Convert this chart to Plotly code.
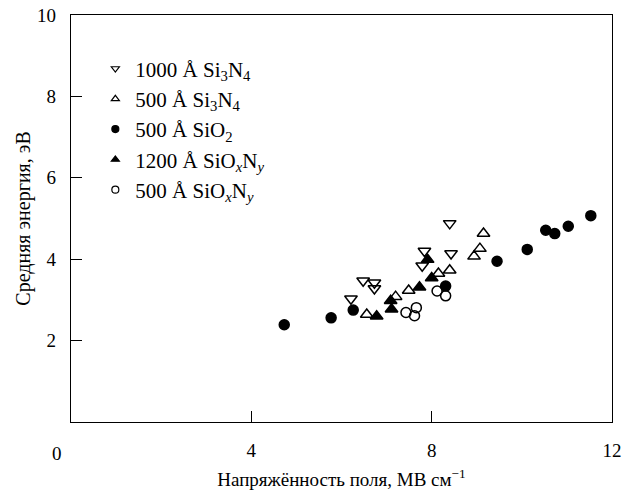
import plotly.graph_objects as go

# 1000 Å Si3N4 (open down-triangles)
si3n4_1000_x = [6.21, 6.48, 6.73, 6.73, 7.84, 7.79, 8.40, 8.43]
si3n4_1000_y = [3.03, 3.47, 3.42, 3.28, 4.20, 3.84, 4.88, 4.14]
# 500 Å Si3N4 (open up-triangles)
si3n4_500_x = [6.56, 7.20, 7.49, 8.15, 8.40, 8.94, 9.07, 9.15]
si3n4_500_y = [2.64, 3.08, 3.23, 3.65, 3.73, 4.07, 4.26, 4.63]
# 500 Å SiO2 (filled circles)
sio2_500_x = [4.73, 5.77, 6.26, 8.31, 9.45, 10.12, 10.53, 10.73, 11.03, 11.53]
sio2_500_y = [2.39, 2.56, 2.75, 3.34, 3.95, 4.24, 4.71, 4.63, 4.81, 5.07]
# 1200 Å SiOxNy (filled up-triangles)
sioxny_1200_x = [6.78, 7.09, 7.11, 7.73, 7.91, 8.00]
sioxny_1200_y = [2.60, 2.98, 2.77, 3.31, 3.99, 3.54]
# 500 Å SiOxNy (open circles)
sioxny_500_x = [7.43, 7.66, 7.62, 8.12, 8.31]
sioxny_500_y = [2.69, 2.81, 2.61, 3.22, 3.10]

x_ticks = [4, 8, 12]
y_ticks = [2, 4, 6, 8, 10]

FONT = "Liberation Serif, Times New Roman, serif"

series = [
    ("1000 Å Si<sub>3</sub>N<sub>4</sub>", si3n4_1000_x, si3n4_1000_y, "triangle-down-open", 11),
    ("500 Å Si<sub>3</sub>N<sub>4</sub>", si3n4_500_x, si3n4_500_y, "triangle-up-open", 11),
    ("500 Å SiO<sub>2</sub>", sio2_500_x, sio2_500_y, "circle", 10),
    ("1200 Å SiO<sub><i>x</i></sub>N<sub><i>y</i></sub>", sioxny_1200_x, sioxny_1200_y, "triangle-up", 11),
    ("500 Å SiO<sub><i>x</i></sub>N<sub><i>y</i></sub>", sioxny_500_x, sioxny_500_y, "circle-open", 10),
]

fig = go.Figure()
for name, xs, ys, sym, sz in series:
    fig.add_trace(go.Scatter(
        x=xs, y=ys, mode="markers", name=name, showlegend=False,
        marker=dict(symbol=sym, size=sz, color="black", line=dict(color="black", width=1.5)),
    ))
for name, xs, ys, sym, sz in series:
    fig.add_trace(go.Scatter(
        x=[None], y=[None], mode="markers", name=name, showlegend=True,
        marker=dict(symbol=sym, size=7, color="black", line=dict(color="black", width=1.2)),
    ))

axis_common = dict(
    showline=True, linecolor="black", linewidth=1.3, mirror=True,
    ticks="inside", ticklen=11, tickwidth=1.3, tickcolor="black",
    showgrid=False, zeroline=False, automargin=False,
    tickfont=dict(family=FONT, size=19, color="black"),
)

fig.update_layout(
    width=639, height=490,
    margin=dict(l=71, r=27, t=15, b=68),
    paper_bgcolor="white", plot_bgcolor="white",
    font=dict(family=FONT, color="black"),
    xaxis=dict(range=[0, 12], tickvals=x_ticks, ticktext=[str(v) for v in x_ticks],
               ticklabelstandoff=11,
               title=dict(text="Напряжённость поля, МВ см<sup>−1</sup>",
                          font=dict(family=FONT, size=19), standoff=12),
               **axis_common),
    yaxis=dict(range=[0, 10], tickvals=y_ticks, ticktext=[str(v) for v in y_ticks],
               ticklabelstandoff=10,
               title=dict(text="Средняя энергия, эВ",
                          font=dict(family=FONT, size=20), standoff=1),
               **axis_common),
    legend=dict(x=0.045, y=0.918, xanchor="left", yanchor="top",
                bgcolor="rgba(0,0,0,0)", font=dict(family=FONT, size=21),
                tracegroupgap=0, itemwidth=30),
    annotations=[dict(text="0", xref="paper", yref="paper", x=-0.026, y=-0.078,
                      xanchor="center", yanchor="middle", showarrow=False,
                      font=dict(family=FONT, size=19, color="black"))],
)

fig.write_html("out.html")
